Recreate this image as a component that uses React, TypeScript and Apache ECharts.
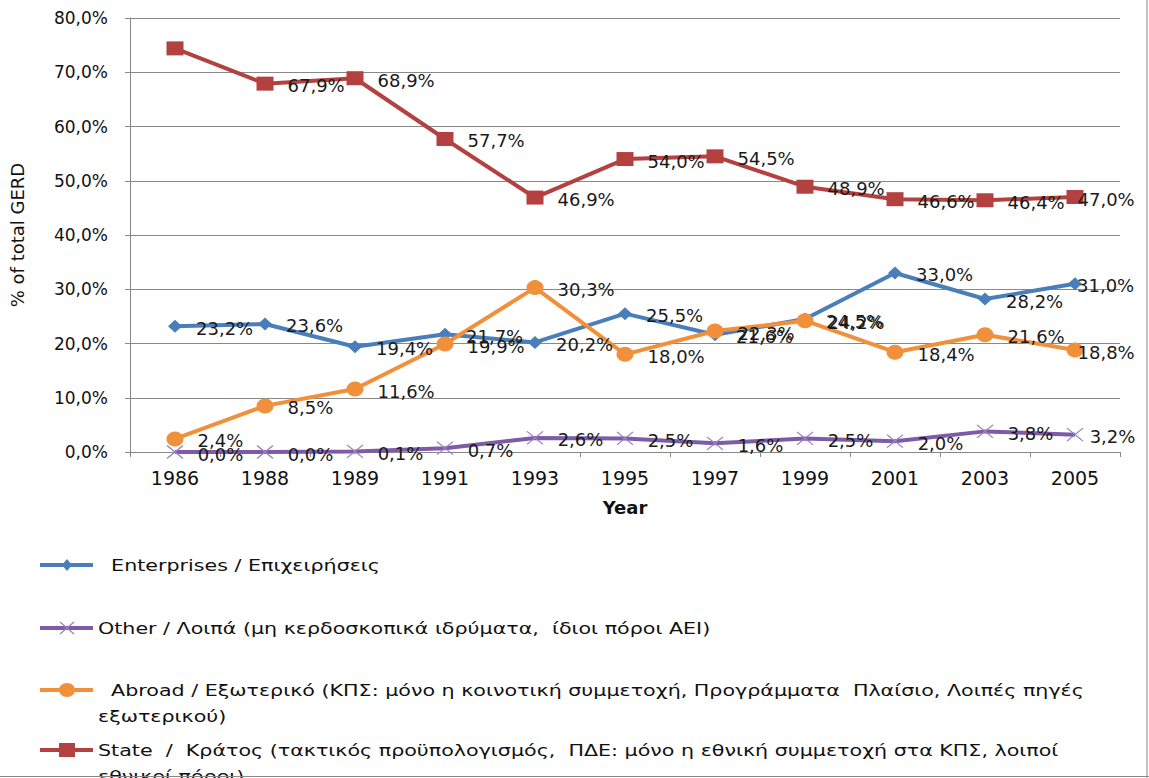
import React, { useEffect, useRef } from "react";
import * as echarts from "echarts";

const years = ["1986", "1988", "1989", "1991", "1993", "1995", "1997", "1999", "2001", "2003", "2005"];
const enterprises = [23.2, 23.6, 19.4, 21.7, 20.2, 25.5, 21.6, 24.5, 33.0, 28.2, 31.0];
const other = [0.0, 0.0, 0.1, 0.7, 2.6, 2.5, 1.6, 2.5, 2.0, 3.8, 3.2];
const abroad = [2.4, 8.5, 11.6, 19.9, 30.3, 18.0, 22.3, 24.2, 18.4, 21.6, 18.8];
const state = [74.4, 67.9, 68.9, 57.7, 46.9, 54.0, 54.5, 48.9, 46.6, 46.4, 47.0];
const stateHiddenLabels = [0];

const legendEnterprises = "  Enterprises / Επιχειρήσεις";
const legendOther = "Other / Λοιπά (μη κερδοσκοπικά ιδρύματα,  ίδιοι πόροι ΑΕΙ)";
const legendAbroad = "  Abroad / Εξωτερικό (ΚΠΣ: μόνο η κοινοτική συμμετοχή, Προγράμματα  Πλαίσιο, Λοιπές πηγές\nεξωτερικού)";
const legendState = "State  /  Κράτος (τακτικός προϋπολογισμός,  ΠΔΕ: μόνο η εθνική συμμετοχή στα ΚΠΣ, λοιποί\nεθνικοί πόροι)";

const C_ENT = "#4a7ebb";
const C_OTH = "#7d5ba6";
const C_ABR = "#f0903a";
const C_STA = "#b3413f";

const FONT = "DejaVu Sans";
const fmt = (v: number) => v.toFixed(1).replace(".", ",") + "%";

export default function App() {
  const ref = useRef<HTMLDivElement>(null);
  useEffect(() => {
    const chart = echarts.init(ref.current!, null, { renderer: "svg" });
    const label = {
      show: true,
      position: "right" as const,
      distance: 14,
      offset: [0, 2],
      color: "#1a1a1a",
      fontFamily: FONT,
      fontSize: 18,
      formatter: (p: any) => fmt(p.value),
    };
    const last = years.length - 1;
    const withLastDist = (data: number[], dist: number, hidden: number[] = []) =>
      data.map((v, i) => {
        if (hidden.includes(i)) return { value: v, label: { show: false } };
        if (i === last) return { value: v, label: { distance: dist } };
        return v;
      });
    const mkSeries = (name: string, data: any[], color: string, symbol: string, size: any, extra: any = {}) => ({
      name,
      type: "line",
      data,
      symbol,
      symbolSize: size,
      lineStyle: { color, width: 4 },
      itemStyle: { color },
      label,
      emphasis: { disabled: true },
      ...extra,
    });
    const legendY = [565, 628, 690, 750];
    const legendItems: any[] = [];
    const lx1 = 40, lx2 = 93, lxm = 67;
    const addLine = (y: number, color: string) =>
      legendItems.push({ type: "line", shape: { x1: lx1, y1: y, x2: lx2, y2: y }, style: { stroke: color, lineWidth: 4 } });
    // Enterprises
    addLine(legendY[0], C_ENT);
    legendItems.push({ type: "polygon", shape: { points: [[lxm, legendY[0] - 6], [lxm + 5, legendY[0]], [lxm, legendY[0] + 6], [lxm - 5, legendY[0]]] }, style: { fill: C_ENT } });
    // Other
    addLine(legendY[1], C_OTH);
    legendItems.push({ type: "line", shape: { x1: lxm - 7, y1: legendY[1] - 6, x2: lxm + 7, y2: legendY[1] + 6 }, style: { stroke: "#9a82c0", lineWidth: 1.2 } });
    legendItems.push({ type: "line", shape: { x1: lxm - 7, y1: legendY[1] + 6, x2: lxm + 7, y2: legendY[1] - 6 }, style: { stroke: "#9a82c0", lineWidth: 1.2 } });
    // Abroad
    addLine(legendY[2], C_ABR);
    legendItems.push({ type: "ellipse", shape: { cx: lxm, cy: legendY[2], rx: 8, ry: 7 }, style: { fill: C_ABR } });
    // State
    addLine(legendY[3], C_STA);
    legendItems.push({ type: "rect", shape: { x: lxm - 8, y: legendY[3] - 7, width: 16, height: 14 }, style: { fill: C_STA } });
    const texts = [legendEnterprises, legendOther, legendAbroad, legendState];
    texts.forEach((t, i) =>
      legendItems.push({
        type: "text",
        x: 98,
        y: legendY[i] - 13,
        scaleX: 1.29,
        style: { text: t, x: 0, y: 0, fill: "#111", font: `16px "${FONT}"`, lineHeight: 26, verticalAlign: "top" },
      })
    );
    legendItems.push({ type: "line", shape: { x1: 1147, y1: 0, x2: 1147, y2: 778 }, style: { stroke: "#888", lineWidth: 1 } });
    legendItems.push({ type: "line", shape: { x1: 0, y1: 776.5, x2: 1149, y2: 776.5 }, style: { stroke: "#888", lineWidth: 1 } });

    chart.setOption({
      animation: false,
      backgroundColor: "#fff",
      grid: { left: 128, right: 29, top: 18, bottom: 326, containLabel: false },
      xAxis: {
        type: "category",
        data: years,
        boundaryGap: true,
        name: "Year",
        nameLocation: "middle",
        nameGap: 46,
        nameTextStyle: { fontFamily: FONT, fontSize: 18, fontWeight: "bold", color: "#111" },
        axisLine: { lineStyle: { color: "#888", width: 1 } },
        axisTick: { show: true, length: 5, lineStyle: { color: "#888" } },
        axisLabel: { fontFamily: FONT, fontSize: 19, color: "#111", margin: 16 },
      },
      yAxis: {
        type: "value",
        min: 0,
        max: 80,
        interval: 10,
        name: "% of total GERD",
        nameLocation: "middle",
        nameGap: 104,
        nameRotate: 90,
        nameTextStyle: { fontFamily: FONT, fontSize: 18, color: "#111" },
        axisLine: { show: true, lineStyle: { color: "#888", width: 1 } },
        axisTick: { show: true, length: 5, lineStyle: { color: "#888" } },
        splitLine: { lineStyle: { color: "#888", width: 1 } },
        axisLabel: { fontFamily: FONT, fontSize: 17, color: "#111", margin: 22, formatter: (v: number) => fmt(v) },
      },
      series: [
        mkSeries("Enterprises / Επιχειρήσεις", withLastDist(enterprises, -5), C_ENT, "diamond", [14, 13]),
        mkSeries("Other / Λοιπά", withLastDist(other, 6), C_OTH, "path://M0,0L10,10M10,0L0,10", [16, 13], {
          itemStyle: { color: "transparent", borderColor: "#9a82c0", borderWidth: 1.2 },
        }),
        mkSeries("Abroad / Εξωτερικό", withLastDist(abroad, -6), C_ABR, "circle", [17, 15]),
        mkSeries("State / Κράτος", withLastDist(state, -6, stateHiddenLabels), C_STA, "rect", [17, 14]),
      ],
      graphic: legendItems,
    });
    return () => chart.dispose();
  }, []);
  return <div ref={ref} style={{ position: "absolute", left: 0, top: 0, width: 1149, height: 778 }} />;
}
